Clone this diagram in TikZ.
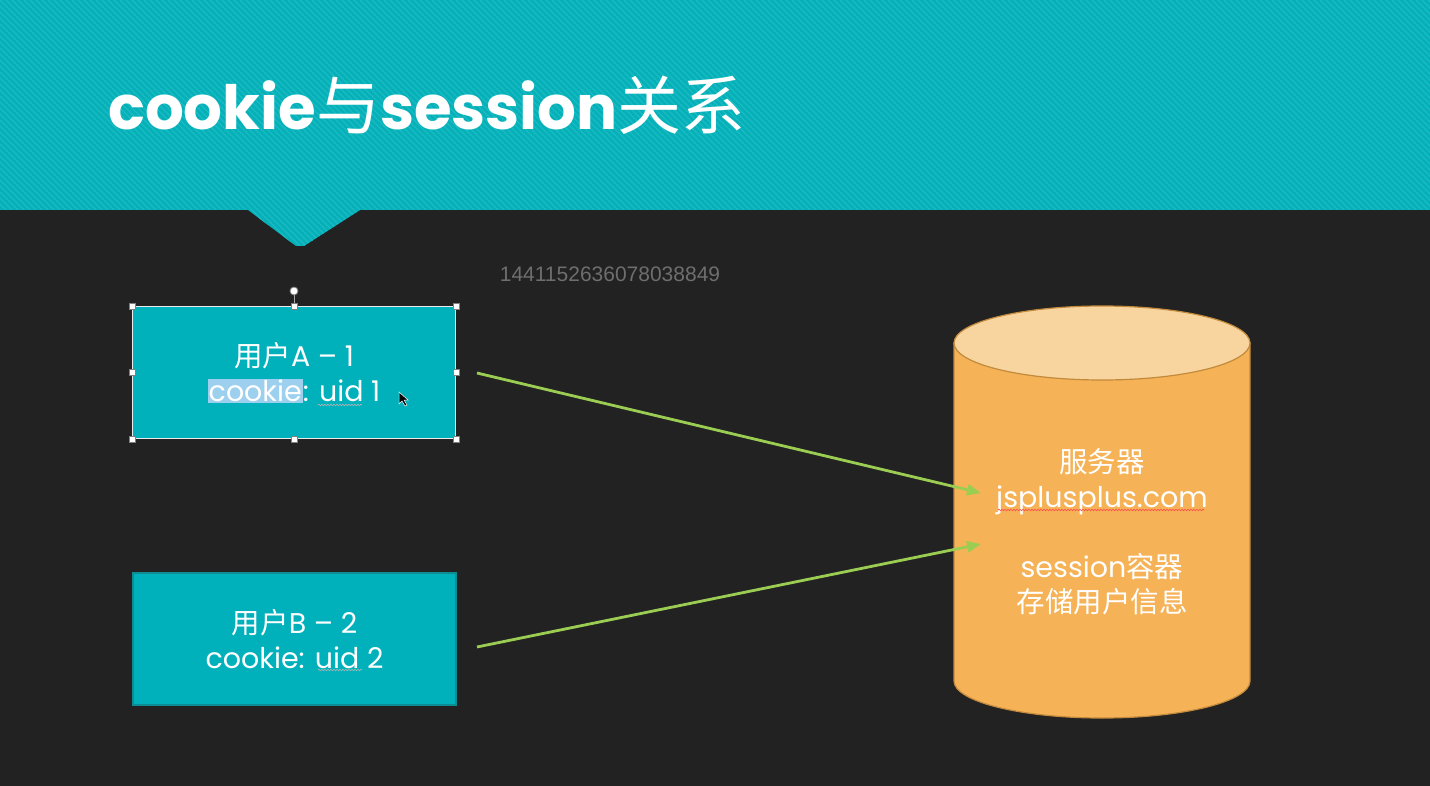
\documentclass[tikz,border=0pt]{standalone}
\usepackage{fontspec}
\setmainfont{Poppins}
\newfontfamily\cjk{Noto Sans CJK SC}
\newfontfamily\numfont{Liberation Sans}
\usetikzlibrary{arrows.meta,decorations.pathmorphing}
\definecolor{bg}{HTML}{222222}
\definecolor{teal}{HTML}{05B0B9}
\definecolor{stripe}{HTML}{1ABBC3}
\definecolor{boxfill}{HTML}{00B1BC}
\definecolor{boxedge}{HTML}{0E8C93}
\definecolor{cylbody}{HTML}{F6B256}
\definecolor{cyltop}{HTML}{F8D49E}
\definecolor{cyledge}{HTML}{C28A3C}
\definecolor{arrowgreen}{HTML}{9ACD52}
\definecolor{numgray}{HTML}{6E6E6E}
\definecolor{hl}{HTML}{9CD0EE}
\tikzset{
  userbox/.style={fill=boxfill, minimum width=323pt, minimum height=132pt, inner sep=0pt,
     text=white, align=center, font=\fontsize{28.5}{35}\selectfont},
  link/.style={draw=arrowgreen, line width=2.8pt, -{Triangle[length=14pt,width=11pt]}},
  handle/.style={draw=gray, fill=white, line width=0.6pt, minimum size=6pt, inner sep=0pt},
  squiggle/.style={decorate, decoration={snake, amplitude=0.8pt, segment length=3pt}, line width=0.6pt}
}
\begin{document}
\begin{tikzpicture}[x=1pt,y=-1pt]
\useasboundingbox (0,0) rectangle (1430,786);
\fill[bg] (0,0) rectangle (1430,786);
% banner
\begin{scope}
\clip (0,0) -- (1430,0) -- (1430,210) -- (360,210) -- (304,246) -- (296,246) -- (248,210) -- (0,210) -- cycle;
\fill[teal] (0,0) rectangle (1430,250);
\foreach \i in {-300,-294,...,1430}{
  \draw[stripe, line width=1.3pt] (\i,0) -- (\i+260,260);
}
\end{scope}
\node (title) [anchor=base west, inner sep=0pt, text=white, font=\fontsize{61}{61}\selectfont\bfseries] at (108,130) {cookie{\cjk\mdseries\fontsize{64}{64}\selectfont 与}session{\cjk\mdseries\fontsize{64}{64}\selectfont 关系}};
% number
\node (num) [text=numgray, font=\numfont\fontsize{21}{21}\selectfont, inner sep=0pt] at (610,274) {1441152636078038849};
% user A
\node (ua) [userbox, draw=white!85!gray, line width=1pt] at (294,372.5)
  {{\cjk 用户}A – 1\\{\setlength{\fboxsep}{1pt}\colorbox{hl}{cookie}}: uid 1};
\draw[gray!70!white, line width=0.8pt] (ua.north) -- (294,292);
\node (rot) [circle, draw=gray, fill=white, line width=0.8pt, minimum size=8pt, inner sep=0pt] at (294,291) {};
\foreach \a in {north west,north,north east,east,south east,south,south west,west}{
  \node[handle] at (ua.\a) {};
}
\draw[squiggle, gray!60!white] (318,405) -- (362,405);
% cursor
\fill[black, draw=white, line width=0.5pt] (399,392) -- (399,404) -- (402,401) -- (405,406) -- (407,405) -- (404,400) -- (408,400) -- cycle;
% user B
\node (ub) [userbox, draw=boxedge, line width=1.5pt] at (294.5,639)
  {{\cjk 用户}B – 2\\cookie: uid 2};
\draw[squiggle, gray!60!white] (318,670) -- (362,670);
% server cylinder
\filldraw[fill=cylbody, draw=cyledge, line width=1.2pt] (954,343) -- (954,681)
  arc[start angle=180, end angle=0, x radius=148, y radius=37] -- (1250,343) -- cycle;
\filldraw[fill=cyltop, draw=cyledge, line width=1.2pt] (1102,343) ellipse [x radius=148, y radius=37];
\node (srv) [text=white, align=center, font=\fontsize{28.5}{35}\selectfont, inner sep=0pt] at (1102,532)
  {{\cjk 服务器}\\jsplusplus.com\\[35pt]session{\cjk 容器}\\{\cjk 存储用户信息}};
\draw[squiggle, red!70!white] (998,510) -- (1204,510);
% connectors
\coordinate (a1s) at (477,373);
\coordinate (a1e) at (981,493);
\coordinate (a2s) at (477,647);
\coordinate (a2e) at (981,544);
\draw[link] (a1s) -- (a1e);
\draw[link] (a2s) -- (a2e);
\end{tikzpicture}
\end{document}
